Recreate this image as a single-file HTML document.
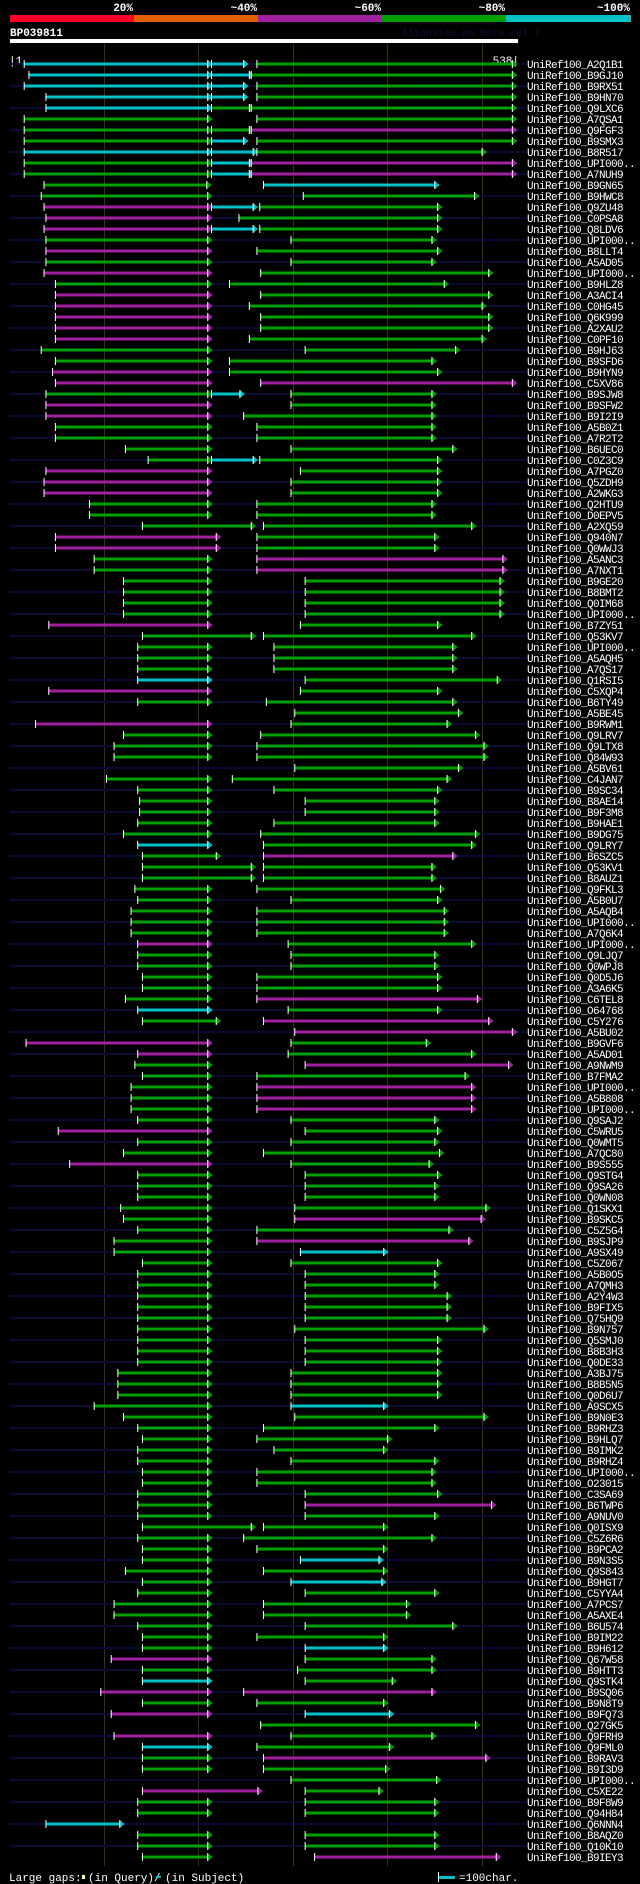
<!DOCTYPE html>
<html><head><meta charset="utf-8"><style>
html,body{margin:0;padding:0;background:#000;}
body{width:640px;height:1884px;overflow:hidden;position:relative;font-family:"Liberation Mono",monospace;}
svg{display:block}
</style></head><body>
<svg id="chart" width="640" height="1884" xmlns="http://www.w3.org/2000/svg">
<rect x="0" y="0" width="640" height="1884" fill="#000"/>
<g font-family="Liberation Mono, monospace" font-weight="bold" font-size="11" fill="#fff" text-anchor="end">
<text x="133" y="11">20%</text>
<text x="257" y="11">~40%</text>
<text x="381" y="11">~60%</text>
<text x="505" y="11">~80%</text>
<text x="630" y="11">~100%</text>
</g>
<rect x="10" y="15" width="124" height="7" fill="#ff0028"/>
<rect x="134" y="15" width="124" height="7" fill="#e06000"/>
<rect x="258" y="15" width="124" height="7" fill="#a020a0"/>
<rect x="382" y="15" width="124" height="7" fill="#00a000"/>
<rect x="506" y="15" width="125" height="7" fill="#00c0c8"/>
<text x="10" y="36" font-family="Liberation Mono, monospace" font-weight="bold" font-size="11" fill="#fff">BP039811</text>
<text x="402" y="36" font-family="Liberation Mono, monospace" font-size="10" fill="#101040">AlignView.pm Beta rel.7</text>
<rect x="10" y="39" width="508" height="4" fill="#fff"/>
<text x="9" y="64" font-family="Liberation Mono, monospace" font-size="11" fill="#fff">|1</text>
<text x="519" y="64" text-anchor="end" font-family="Liberation Mono, monospace" font-size="11" fill="#fff">538|</text>
<g id="grid"></g>
<g id="rows"></g>
<g font-family="Liberation Mono, monospace" font-size="11" fill="#fff">
<text x="9" y="1881">Large gaps:</text>
<rect x="82" y="1875" width="3" height="4" fill="#ffff80"/>
<text x="88" y="1881">(in Query)/</text>
<rect x="156" y="1876" width="5" height="2" fill="#00c0c8"/>
<text x="165" y="1881">(in Subject)</text>
<rect x="438" y="1872" width="1" height="10" fill="#fff"/>
<rect x="439" y="1876" width="16" height="3" fill="#00c0c8"/>
<text x="459" y="1881">=100char.</text>
</g>
</svg>
<script>
const QLEN = 538;
const gridTicks = [100, 200, 300, 400, 500];
const names = ["A2Q1B1","B9GJ10","B9RX51","B9HN70","Q9LXC6","A7QSA1","Q9FGF3","B9SMX3","B8R517","UPI000..","A7NUH9","B9GN65","B9HWC8","Q9ZU48","C0PSA8","Q8LDV6","UPI000..","B8LLT4","A5AD05","UPI000..","B9HLZ8","A3ACI4","C0HG45","Q6K999","A2XAU2","C0PF10","B9HJ63","B9SFD6","B9HYN9","C5XV86","B9SJW8","B9SFW2","B9I2I9","A5B0Z1","A7R2T2","B6UEC0","C0Z3C9","A7PGZ0","Q5ZDH9","A2WKG3","Q2HTU9","D0EPV5","A2XQ59","Q940N7","Q0WWJ3","A5ANC3","A7NXT1","B9GE20","B8BMT2","Q0IM68","UPI000..","B7ZY51","Q53KV7","UPI000..","A5AQH5","A7QS17","Q1RSI5","C5XQP4","B6TY49","A5BE45","B9RWM1","Q9LRV7","Q9LTX8","Q84W93","A5BV61","C4JAN7","B9SC34","B8AE14","B9F3M8","B9HAE1","B9DG75","Q9LRY7","B6SZC5","Q53KV1","B8AUZ1","Q9FKL3","A5B0U7","A5AQB4","UPI000..","A7Q6K4","UPI000..","Q9LJQ7","Q0WPJ8","Q0D5J6","A3A6K5","C6TEL8","O64768","C5Y276","A5BU02","B9GVF6","A5AD01","A9NWM9","B7FMA2","UPI000..","A5B808","UPI000..","Q9SAJ2","C5WRU5","Q0WMT5","A7QC80","B9S555","Q9STG4","Q9SA26","Q0WN08","Q1SKX1","B9SKC5","C5Z5G4","B9SJP9","A9SX49","C5Z067","A5B0O5","A7QMH3","A2Y4W3","B9FIX5","Q75HQ9","B9N757","Q5SMJ0","B8B3H3","Q0DE33","A3BJ75","B8B5N5","Q0D6U7","A9SCX5","B9N0E3","B9RHZ3","B9HLQ7","B9IMK2","B9RHZ4","UPI000..","O23015","C3SA69","B6TWP6","A9NUV0","Q0ISX9","C5Z6R6","B9PCA2","B9N3S5","Q9S843","B9HGT7","C5YYA4","A7PCS7","A5AXE4","B6U574","B9IM22","B9H612","Q67W58","B9HTT3","Q9STK4","B9SQ06","B9N8T9","B9FQ73","Q27GK5","Q9FRH9","Q9FML0","B9RAV3","B9I3D9","UPI000..","C5XE22","B9F8W9","Q94H84","Q6NNN4","B8AQZ0","Q10K10","B9IEY3"];
const hsps = [
[[16,210,"c"],[214,248,"c"],[262,532,"g"]],
[[21,210,"c"],[214,254,"c"],[256,532,"g"]],
[[16,210,"c"],[214,248,"c"],[262,532,"g"]],
[[39,210,"c"],[214,248,"c"],[262,532,"g"]],
[[39,210,"c"],[214,254,"g"],[256,532,"g"]],
[[16,210,"g"],[262,532,"g"]],
[[16,210,"g"],[214,254,"g"],[256,532,"m"]],
[[16,210,"g"],[214,248,"c"],[262,532,"g"]],
[[16,210,"c"],[214,258,"c"],[262,500,"g"]],
[[16,210,"g"],[214,254,"c"],[256,532,"m"]],
[[16,210,"g"],[214,254,"c"],[256,532,"m"]],
[[37,209,"g"],[269,450,"c"]],
[[34,210,"g"],[311,492,"g"]],
[[37,210,"m"],[214,258,"c"],[265,453,"g"]],
[[39,210,"m"],[243,453,"g"]],
[[37,210,"m"],[214,258,"c"],[265,453,"g"]],
[[39,210,"g"],[298,447,"g"]],
[[39,210,"m"],[262,453,"g"]],
[[39,210,"g"],[298,447,"g"]],
[[37,210,"m"],[266,507,"g"]],
[[49,210,"g"],[233,460,"g"]],
[[49,210,"m"],[266,507,"g"]],
[[49,210,"m"],[254,500,"g"]],
[[49,210,"m"],[266,507,"g"]],
[[49,210,"m"],[266,507,"g"]],
[[49,210,"m"],[254,500,"g"]],
[[34,210,"g"],[313,472,"g"]],
[[49,210,"g"],[233,447,"g"]],
[[46,210,"m"],[233,453,"g"]],
[[49,210,"m"],[266,532,"m"]],
[[39,210,"g"],[214,244,"c"],[298,447,"g"]],
[[39,210,"m"],[298,447,"g"]],
[[39,210,"m"],[248,447,"g"]],
[[49,210,"g"],[262,447,"g"]],
[[49,210,"g"],[262,447,"g"]],
[[123,210,"g"],[298,469,"g"]],
[[147,210,"g"],[214,258,"c"],[265,453,"g"]],
[[39,210,"m"],[308,453,"g"]],
[[37,210,"m"],[298,453,"g"]],
[[37,210,"m"],[298,453,"g"]],
[[85,210,"g"],[262,447,"g"]],
[[85,210,"g"],[262,447,"g"]],
[[141,256,"g"],[269,489,"g"]],
[[49,219,"m"],[262,450,"g"]],
[[49,219,"m"],[262,450,"g"]],
[[90,210,"g"],[262,522,"m"]],
[[90,210,"g"],[262,522,"m"]],
[[121,210,"g"],[313,519,"g"]],
[[121,210,"g"],[313,519,"g"]],
[[121,210,"g"],[313,519,"g"]],
[[121,210,"g"],[313,519,"g"]],
[[42,210,"m"],[308,453,"g"]],
[[141,256,"g"],[269,489,"g"]],
[[136,210,"g"],[280,469,"g"]],
[[136,210,"g"],[280,469,"g"]],
[[136,210,"g"],[280,469,"g"]],
[[136,210,"c"],[313,516,"g"]],
[[42,210,"m"],[308,453,"g"]],
[[136,210,"g"],[272,469,"g"]],
[[302,475,"g"]],
[[28,210,"m"],[298,463,"g"]],
[[121,210,"g"],[266,493,"g"]],
[[111,210,"g"],[262,502,"g"]],
[[111,210,"g"],[262,502,"g"]],
[[302,475,"g"]],
[[103,210,"g"],[236,463,"g"]],
[[136,210,"g"],[280,453,"g"]],
[[138,210,"g"],[313,450,"g"]],
[[138,210,"g"],[313,450,"g"]],
[[136,210,"g"],[280,450,"g"]],
[[121,210,"g"],[266,493,"g"]],
[[136,210,"c"],[269,489,"g"]],
[[141,219,"g"],[269,469,"m"]],
[[141,256,"g"],[269,447,"g"]],
[[141,256,"g"],[269,447,"g"]],
[[133,210,"g"],[262,456,"g"]],
[[136,210,"g"],[298,453,"g"]],
[[129,210,"g"],[262,460,"g"]],
[[129,210,"g"],[262,460,"g"]],
[[129,210,"g"],[262,460,"g"]],
[[136,210,"m"],[295,489,"g"]],
[[136,210,"g"],[298,450,"g"]],
[[136,210,"g"],[298,450,"g"]],
[[141,210,"g"],[262,453,"g"]],
[[141,210,"g"],[262,453,"g"]],
[[123,210,"g"],[262,495,"m"]],
[[136,210,"c"],[295,453,"g"]],
[[141,219,"g"],[269,507,"m"]],
[[302,532,"m"]],
[[18,210,"m"],[298,441,"g"]],
[[136,210,"m"],[295,489,"g"]],
[[133,210,"g"],[313,528,"m"]],
[[141,210,"g"],[262,482,"g"]],
[[129,210,"g"],[262,489,"m"]],
[[129,210,"g"],[262,489,"m"]],
[[129,210,"g"],[262,489,"m"]],
[[136,210,"g"],[298,450,"g"]],
[[52,210,"m"],[313,453,"g"]],
[[136,210,"g"],[298,450,"g"]],
[[121,210,"g"],[269,455,"g"]],
[[64,210,"m"],[298,444,"g"]],
[[136,210,"g"],[313,453,"g"]],
[[136,210,"g"],[313,450,"g"]],
[[136,210,"g"],[313,450,"g"]],
[[118,210,"g"],[302,504,"g"]],
[[121,210,"g"],[302,499,"m"]],
[[136,210,"g"],[262,465,"g"]],
[[111,210,"g"],[262,486,"m"]],
[[111,210,"g"],[308,396,"c"]],
[[141,210,"g"],[298,453,"g"]],
[[136,210,"g"],[313,450,"g"]],
[[136,210,"g"],[313,450,"g"]],
[[136,210,"g"],[313,463,"g"]],
[[136,210,"g"],[313,463,"g"]],
[[136,210,"g"],[313,463,"g"]],
[[136,210,"g"],[302,502,"g"]],
[[136,210,"g"],[313,453,"g"]],
[[136,210,"g"],[313,453,"g"]],
[[136,210,"g"],[313,453,"g"]],
[[115,210,"g"],[298,453,"g"]],
[[115,210,"g"],[298,453,"g"]],
[[115,210,"g"],[298,453,"g"]],
[[90,210,"g"],[298,396,"c"]],
[[121,210,"g"],[302,502,"g"]],
[[136,210,"g"],[269,450,"g"]],
[[141,210,"g"],[262,400,"g"]],
[[136,210,"g"],[280,396,"g"]],
[[136,210,"g"],[298,450,"g"]],
[[141,210,"g"],[262,447,"g"]],
[[141,210,"g"],[262,447,"g"]],
[[136,210,"g"],[313,453,"g"]],
[[136,210,"g"],[313,510,"m"]],
[[136,210,"g"],[313,450,"g"]],
[[141,256,"g"],[269,396,"g"]],
[[136,210,"g"],[248,447,"g"]],
[[141,210,"g"],[262,396,"g"]],
[[141,210,"g"],[308,391,"c"]],
[[123,210,"g"],[269,396,"g"]],
[[141,210,"g"],[298,394,"c"]],
[[136,210,"g"],[313,450,"g"]],
[[111,210,"g"],[269,420,"g"]],
[[111,210,"g"],[269,420,"g"]],
[[136,210,"g"],[313,469,"g"]],
[[141,210,"g"],[262,396,"g"]],
[[141,210,"g"],[313,396,"c"]],
[[108,210,"m"],[313,447,"g"]],
[[141,210,"g"],[305,447,"g"]],
[[141,210,"c"],[313,405,"g"]],
[[97,210,"m"],[248,447,"m"]],
[[141,210,"g"],[262,396,"g"]],
[[108,210,"m"],[313,402,"c"]],
[[266,493,"g"]],
[[111,210,"m"],[298,447,"g"]],
[[141,210,"c"],[262,402,"g"]],
[[141,210,"g"],[269,504,"m"]],
[[141,210,"g"],[269,398,"g"]],
[[298,452,"g"]],
[[141,263,"m"],[313,391,"g"]],
[[136,210,"g"],[313,450,"g"]],
[[136,210,"g"],[313,450,"g"]],
[[39,117,"c"]],
[[136,210,"g"],[313,450,"g"]],
[[136,210,"g"],[313,450,"g"]],
[[141,210,"g"],[323,515,"m"]]
];
const colorMap = {c:"#00c0c8", g:"#00a000", m:"#a020a0"};
const NS = "http://www.w3.org/2000/svg";
const X0 = 10, X1 = 518, ROW0 = 64, PITCH = 11;
function xScale(aa){ return X0 + (aa - 1) * (X1 - X0) / (QLEN - 1); }
function yRow(i){ return ROW0 + i * PITCH; }
function mk(tag, attrs){ const e = document.createElementNS(NS, tag); for (const k in attrs) e.setAttribute(k, attrs[k]); return e; }

const grid = document.getElementById('grid');
gridTicks.forEach(t => {
  const ln = mk('rect', {x: Math.round(xScale(t)), y: 44, width: 1, height: 1822, fill: '#34340c'});
  
  
  grid.appendChild(ln);
});

const rowsG = document.getElementById('rows');
names.forEach((nm, i) => {
  const y = yRow(i);
  const g = mk('g', {});
  
  
  if (i % 2 === 0) {
    const bg = mk('rect', {x: 10, y: y - 1, width: 517, height: 2, fill: '#0a0a36'});
    
    
    g.appendChild(bg);
  }
  (hsps[i] || []).forEach(h => {
    const xs = xScale(h[0]), xe = xScale(h[1]), col = colorMap[h[2]];
    const bar = mk('rect', {x: xs, y: y - 1.5, width: Math.max(1, xe - xs), height: 3, fill: col});
    
    
    g.appendChild(bar);
    const tick = mk('rect', {x: xs - 0.5, y: y - 4, width: 1, height: 8, fill: '#fff'});
    
    
    g.appendChild(tick);
    const arr = mk('path', {d: `M${xe},${y-4} L${xe+5},${y} L${xe},${y+4} Z`, fill: col});
    
    
    g.appendChild(arr);
    const base = mk('rect', {x: xe - 0.5, y: y - 4, width: 1, height: 8, fill: '#fff'});
    
    
    g.appendChild(base);
  });
  const tx = mk('text', {x: 527, y: y + 4, fill: '#fff', 'font-family': 'Liberation Mono, monospace', 'font-size': '11', 'letter-spacing': '-0.6'});
  tx.textContent = 'UniRef100_' + nm;
  
  
  g.appendChild(tx);
  rowsG.appendChild(g);
});
</script>
</body></html>
